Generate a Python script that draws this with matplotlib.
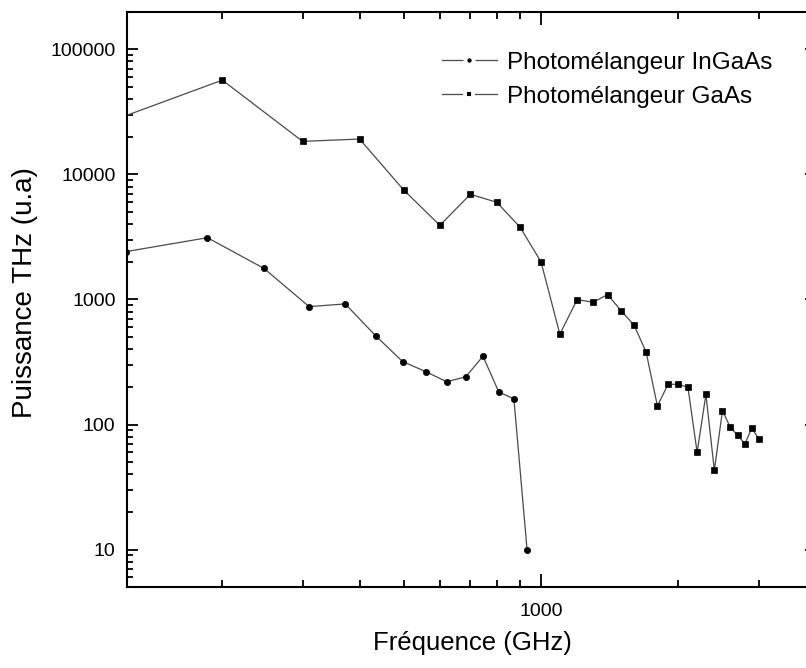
import matplotlib
matplotlib.use("Agg")
import matplotlib.pyplot as plt
from matplotlib.lines import Line2D
from matplotlib.ticker import LogLocator, FuncFormatter, NullFormatter

plt.rcParams['font.family'] = ['Liberation Sans', 'DejaVu Sans']

# Data
freq_ingaas = [123, 185.5, 247, 310, 372, 434, 497, 559, 621, 684, 746, 808, 872, 932]
power_ingaas = [2415, 3120, 1770, 877, 922, 512, 319, 265, 220, 241, 352, 182, 161, 10]

freq_gaas = [121, 200, 300, 400, 500, 600, 700, 800, 900, 1000, 1100, 1200, 1300, 1400,
             1500, 1600, 1700, 1800, 1900, 2000, 2100, 2200, 2300, 2400, 2500, 2600,
             2700, 2800, 2900, 3000]
power_gaas = [28900, 56750, 18380, 19180, 7500, 3920, 6935, 5985, 3780, 2000, 528, 998,
              951, 1094, 811, 623, 381, 141, 210, 210, 199, 60, 174, 43, 129, 95.5,
              82, 70, 94, 77]

label_ingaas = "Photomélangeur InGaAs"
label_gaas = "Photomélangeur GaAs"
xlabel = "Fréquence (GHz)"
ylabel = "Puissance THz (u.a)"

W, H = 806, 668
fig = plt.figure(figsize=(W / 100, H / 100), dpi=100)
left, right, top, bottom = 126.7, 815.5, 11.7, 587.3
ax = fig.add_axes([left / W, 1 - bottom / H, (right - left) / W, (bottom - top) / H])

line_color = '#4a4a4a'
ax.plot(freq_ingaas, power_ingaas, color=line_color, lw=0.9, marker='o', ms=4.5,
        mfc='black', mec='black', mew=0.5)
ax.plot(freq_gaas, power_gaas, color=line_color, lw=0.9, marker='s', ms=4.2,
        mfc='black', mec='black', mew=0.5)

ax.set_xscale('log')
ax.set_yscale('log')
ax.set_xlim(123.4, 4000)
ax.set_ylim(5, 200000)

plain = FuncFormatter(lambda v, p: f"{int(round(v))}")
ax.xaxis.set_major_locator(LogLocator(base=10, numticks=10))
ax.xaxis.set_minor_locator(LogLocator(base=10, subs=range(2, 10), numticks=20))
ax.xaxis.set_major_formatter(plain)
ax.xaxis.set_minor_formatter(NullFormatter())
ax.yaxis.set_major_locator(LogLocator(base=10, numticks=10))
ax.yaxis.set_minor_locator(LogLocator(base=10, subs=range(2, 10), numticks=20))
ax.yaxis.set_major_formatter(plain)
ax.yaxis.set_minor_formatter(NullFormatter())

for s in ax.spines.values():
    s.set_linewidth(1.5)
ax.tick_params(axis='both', which='both', direction='in', top=True, right=True,
               width=1.3, labelsize=14, colors='black')
ax.tick_params(axis='x', which='major', length=9.4, pad=11)
ax.tick_params(axis='x', which='minor', length=4.8)
ax.tick_params(axis='y', which='major', length=7.7, pad=8)
ax.tick_params(axis='y', which='minor', length=4.3)

ax.set_xlabel(xlabel, fontsize=18.5)
ax.set_ylabel(ylabel, fontsize=20)
ax.xaxis.set_label_coords(0.502, -0.076)
ax.yaxis.set_label_coords(-0.129, 0.512)

h1 = Line2D([], [], color=line_color, lw=0.9, marker='o', ms=6.0, mfc='black',
            mec='white', mew=2.8)
h2 = Line2D([], [], color=line_color, lw=0.9, marker='s', ms=5.8, mfc='black',
            mec='white', mew=2.8)
ax.legend([h1, h2], [label_ingaas, label_gaas], loc='upper left',
          bbox_to_anchor=(441.7 / W, 1 - 51.7 / H), bbox_transform=fig.transFigure,
          frameon=False, fontsize=17.5, handlelength=2.26, handletextpad=0.42,
          labelspacing=0.5, borderpad=0, borderaxespad=0)

fig.savefig('out.png', dpi=100)
